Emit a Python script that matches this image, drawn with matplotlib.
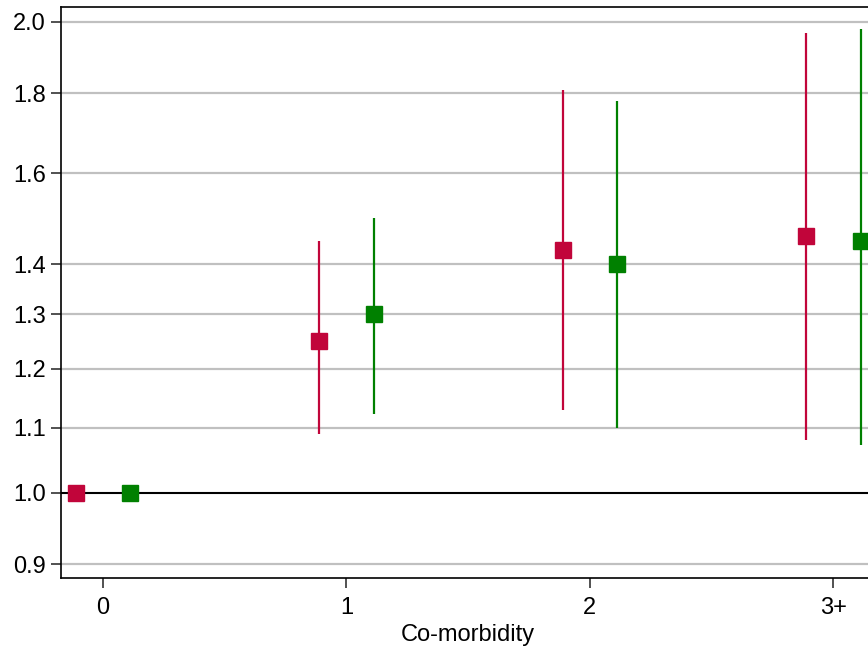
import matplotlib
matplotlib.use("Agg")
import matplotlib.pyplot as plt
import numpy as np

plt.rcParams['font.family'] = ['Liberation Sans', 'DejaVu Sans']

categories = ["0", "1", "2", "3+"]
red_est = [1.0, 1.250, 1.429, 1.459]
red_lo = [1.0, 1.091, 1.130, 1.081]
red_hi = [1.0, 1.449, 1.809, 1.967]
green_est = [1.0, 1.30, 1.40, 1.449]
green_lo = [1.0, 1.122, 1.100, 1.072]
green_hi = [1.0, 1.498, 1.780, 1.980]
yticks = [0.9, 1.0, 1.1, 1.2, 1.3, 1.4, 1.6, 1.8, 2.0]

red_c = "#C1053A"
green_c = "#008000"

fig = plt.figure(figsize=(8.68, 6.46), dpi=100)
ax = fig.add_axes([61/868, 68/646, 814/868, 0.8839])
ax.set_yscale('log')
ax.set_ylim(0.882, 2.044)
ax.set_xlim(-0.172, 3.171)

for y in yticks:
    if y != 1.0:
        ax.axhline(y, color="#C0C0C0", lw=1.6, zorder=0)
ax.axhline(1.0, color="black", lw=1.5, zorder=1)

x = np.arange(len(categories))
off = 0.112
for xs, est, lo, hi, c in [(x - off, red_est, red_lo, red_hi, red_c),
                           (x + off, green_est, green_lo, green_hi, green_c)]:
    est = np.array(est); lo = np.array(lo); hi = np.array(hi)
    ax.vlines(xs[1:], lo[1:], hi[1:], color=c, lw=1.6, zorder=2)
    ax.plot(xs, est, ls='none', marker='s', ms=11, color=c, zorder=3)

ax.set_xticks(x)
ax.set_xticklabels(categories)
ax.set_yticks(yticks)
ax.set_yticklabels([f"{v:.1f}" for v in yticks])
ax.yaxis.set_minor_locator(matplotlib.ticker.NullLocator())
ax.tick_params(axis='both', labelsize=17, length=7, width=1.2, color="#333333")
ax.tick_params(axis='y', pad=4)
ax.tick_params(axis='x', pad=7)
ax.set_xlabel("Co-morbidity", fontsize=17, labelpad=3)
for s in ['left', 'bottom', 'top']:
    ax.spines[s].set_linewidth(1.2)
ax.spines['right'].set_visible(False)

fig.savefig("out.png", dpi=100)
